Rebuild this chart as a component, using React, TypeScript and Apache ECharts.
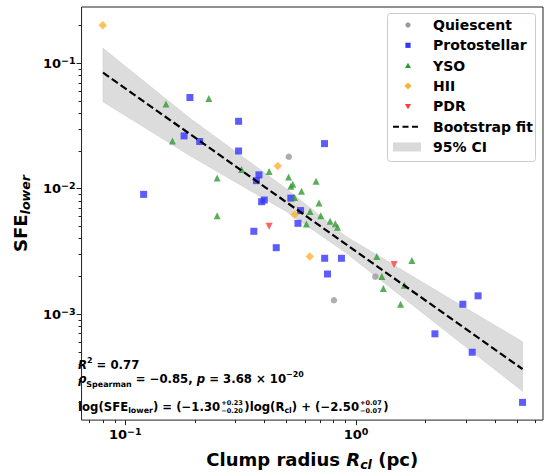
import React, { useEffect, useRef } from "react";
import * as echarts from "echarts";

const FONT = '"DejaVu Sans", sans-serif';

// ---- data ----
const quiescentR = [0.511, 0.802, 1.212];
const quiescentSFE = [0.018, 0.00129, 0.00199];

const protostellarR = [0.1905, 0.3096, 0.1797, 0.21, 0.3096, 0.3795, 0.37, 0.12, 0.73, 0.5216, 0.4, 0.3897, 0.5746, 0.56, 0.3605, 0.4508, 0.731, 0.8643, 0.752, 2.197, 2.903, 3.379, 3.187, 5.267];
const protostellarSFE = [0.0534, 0.0345, 0.0264, 0.0238, 0.02, 0.0129, 0.0116, 0.00902, 0.0229, 0.00842, 0.00813, 0.00788, 0.0067, 0.0053, 0.00458, 0.00339, 0.00279, 0.00279, 0.00209, 0.000697, 0.0012, 0.0014, 0.000497, 0.000198];

const ysoR = [0.15, 0.23, 0.16, 0.25, 0.25, 0.3187, 0.42, 0.51, 0.671, 0.532, 0.5216, 0.58, 0.541, 0.691, 0.632, 0.703, 0.609, 0.772, 0.813, 0.831, 1.23, 1.745, 1.294, 1.313, 1.621, 1.559];
const ysoSFE = [0.0473, 0.0525, 0.024, 0.01216, 0.00609, 0.01422, 0.01372, 0.01238, 0.01145, 0.01085, 0.01047, 0.00956, 0.00852, 0.0077, 0.00658, 0.00609, 0.00523, 0.0055, 0.00527, 0.00493, 0.00288, 0.00268, 0.002, 0.0016, 0.0017, 0.0012];

const hiiR = [0.0798, 0.458, 0.541, 0.63];
const hiiSFE = [0.201, 0.0152, 0.00619, 0.00288];

const pdrR = [0.42, 1.461];
const pdrSFE = [0.00502, 0.00249];

const fitR = [0.08, 5.27];
const fitSFE = [0.0843, 0.000365];

const bandR = [0.08, 0.19, 0.5, 0.9, 2.62, 5.27];
const bandLower = [0.0494, 0.0184, 0.00657, 0.0031, 0.000664, 0.000243];
const bandUpper = [0.1318, 0.0366, 0.00996, 0.00419, 0.00129, 0.000603];

const xMajor = [0.1, 1];
const xMinor = [0.07, 0.08, 0.09, 0.2, 0.3, 0.4, 0.5, 0.6, 0.7, 0.8, 0.9, 2, 3, 4, 5, 6];
const yMajor = [0.001, 0.01, 0.1];
const yMinor = [0.0002, 0.0003, 0.0004, 0.0005, 0.0006, 0.0007, 0.0008, 0.0009, 0.002, 0.003, 0.004, 0.005, 0.006, 0.007, 0.008, 0.009, 0.02, 0.03, 0.04, 0.05, 0.06, 0.07, 0.08, 0.09, 0.2];

const X_MIN = 0.0646, X_MAX = 6.46;
const Y_MIN = 0.000143, Y_MAX = 0.2813;

const legendNames = ["Quiescent", "Protostellar", "YSO", "HII", "PDR", "Bootstrap fit", "95% CI"];

const C_Q = "#9a9a9a", C_P = "#3535ff", C_Y = "#2f9a2f", C_H = "#ffb22e", C_R = "#ff3a3a";
const AX = "#222";

const pairs = (xs: number[], ys: number[]) => xs.map((x, i) => [x, ys[i]]);

const tickFmt = (v: number) => {
  const e = Math.round(Math.log10(v));
  return `{b|10}{s|${e < 0 ? "\u2212" : ""}${Math.abs(e)}}`;
};
const tickRich = {
  b: { fontSize: 13, fontWeight: "bold", fontFamily: FONT, lineHeight: 16, color: "#000" },
  s: { fontSize: 9.5, fontWeight: "bold", fontFamily: FONT, lineHeight: 10, padding: [0, 0, 6, 0], color: "#000" },
};

type Seg = { t?: string; k: string; dy?: number; up?: string; dn?: string };

function buildLine(segs: Seg[], x0: number, midY: number, F: number) {
  const cv = document.createElement("canvas").getContext("2d")!;
  const meas = (t: string, size: number, italic: boolean) => {
    cv.font = `${italic ? "italic " : ""}bold ${size}px ${FONT}`;
    return cv.measureText(t).width;
  };
  const S = F * 0.68;
  const ST = F * 0.56;
  const txt = (t: string, x: number, y: number, size: number, italic: boolean) => ({
    type: "text",
    x,
    y,
    silent: true,
    style: {
      text: t,
      fontSize: size,
      fontWeight: "bold",
      fontStyle: italic ? "italic" : "normal",
      fontFamily: FONT,
      fill: "#000",
      align: "left",
      verticalAlign: "middle",
    },
  });
  const els: any[] = [];
  let x = x0;
  for (const s of segs) {
    if (s.k === "stack") {
      const w1 = meas(s.up!, ST, false), w2 = meas(s.dn!, ST, false);
      els.push(txt(s.up!, x + 1, midY - F * 0.34, ST, false));
      els.push(txt(s.dn!, x + 1, midY + F * 0.38, ST, false));
      x += Math.max(w1, w2) + 2.5;
    } else {
      const small = s.k === "sup" || s.k === "sub" || s.k === "isub";
      const size = small ? S : F;
      const italic = s.k === "i" || s.k === "isub";
      const dy = s.dy !== undefined ? s.dy * F : s.k === "sup" ? -0.36 * F : small ? 0.3 * F : 0;
      els.push(txt(s.t!, x, midY + dy, size, italic));
      x += meas(s.t!, size, italic);
    }
  }
  return els;
}

export default function App() {
  const ref = useRef<HTMLDivElement>(null);
  useEffect(() => {
    const chart = echarts.init(ref.current!, null, { renderer: "svg" });
    const F = 11.7;
    const line1 = buildLine([{ t: "R", k: "i" }, { t: "2", k: "sup" }, { t: " = 0.77", k: "n" }], 78, 365, F);
    const line2 = buildLine(
      [
        { t: "\u03c1", k: "i" },
        { t: "Spearman", k: "sub", dy: 0.48 },
        { t: " = \u22120.85, ", k: "n" },
        { t: "p", k: "i" },
        { t: " = 3.68 \u00d7 10", k: "n" },
        { t: "\u221220", k: "sup" },
      ],
      78, 378.6, F
    );
    const line3 = buildLine(
      [
        { t: "log(SFE", k: "n" },
        { t: "lower", k: "sub" },
        { t: ") = (\u22121.30", k: "n" },
        { k: "stack", up: "+0.23", dn: "\u22120.20" },
        { t: ")log(R", k: "n" },
        { t: "cl", k: "sub" },
        { t: ") + (\u22122.50", k: "n" },
        { k: "stack", up: "+0.07", dn: "\u22120.07" },
        { t: ")", k: "n" },
      ],
      78, 406.5, F
    );

    const rowY = [25, 45.3, 65.7, 86, 106.3, 126.7, 147];
    const mx = 408;
    const legendEls: any[] = [
      { type: "rect", shape: { x: 387.5, y: 13.5, width: 148, height: 148, r: 3 }, style: { fill: "rgba(255,255,255,0.85)", stroke: "#cccccc", lineWidth: 1 }, z: 10 },
      { type: "circle", shape: { cx: mx, cy: rowY[0], r: 2.6 }, style: { fill: C_Q }, z: 11 },
      { type: "rect", shape: { x: mx - 2.6, y: rowY[1] - 2.6, width: 5.2, height: 5.2 }, style: { fill: C_P }, z: 11 },
      { type: "polygon", shape: { points: [[mx, rowY[2] - 3], [mx - 3, rowY[2] + 2.4], [mx + 3, rowY[2] + 2.4]] }, style: { fill: C_Y }, z: 11 },
      { type: "polygon", shape: { points: [[mx, rowY[3] - 3.6], [mx + 3.6, rowY[3]], [mx, rowY[3] + 3.6], [mx - 3.6, rowY[3]]] }, style: { fill: C_H }, z: 11 },
      { type: "polygon", shape: { points: [[mx - 3, rowY[4] - 2.4], [mx + 3, rowY[4] - 2.4], [mx, rowY[4] + 3]] }, style: { fill: C_R }, z: 11 },
      { type: "line", shape: { x1: 393, y1: rowY[5], x2: 421, y2: rowY[5] }, style: { stroke: "#000", lineWidth: 2, lineDash: [6, 3.5] }, z: 11 },
      { type: "rect", shape: { x: 393, y: rowY[6] - 4.5, width: 28, height: 9 }, style: { fill: "#d9d9d9" }, z: 11 },
      ...legendNames.map((n, i) => ({
        type: "text",
        x: 433,
        y: rowY[i],
        z: 11,
        style: { text: n, fontSize: 14, fontWeight: "bold", fontFamily: FONT, fill: "#000", align: "left", verticalAlign: "middle" },
      })),
    ];

    const tickLine = { color: AX, width: 1 };
    const option: any = {
      animation: false,
      backgroundColor: "#fff",
      grid: { left: 69, right: 7, top: 7, bottom: 49, show: true, borderColor: AX, borderWidth: 1, backgroundColor: "transparent" },
      xAxis: [
        {
          type: "log", logBase: 10, min: X_MIN, max: X_MAX, position: "bottom",
          axisLine: { show: false },
          axisTick: { show: true, inside: false, length: 5, customValues: xMajor, lineStyle: tickLine },
          axisLabel: { customValues: xMajor, formatter: tickFmt, rich: tickRich, margin: 6 },
          splitLine: { show: false }, minorTick: { show: false }, minorSplitLine: { show: false },
          name: "{a|Clump radius }{i|R}{s|cl}{a| (pc)}",
          nameLocation: "middle", nameGap: 19,
          nameTextStyle: {
            rich: {
              a: { fontSize: 18, fontWeight: "bold", fontFamily: FONT, lineHeight: 22, color: "#000" },
              i: { fontSize: 18, fontWeight: "bold", fontStyle: "italic", fontFamily: FONT, lineHeight: 22, color: "#000" },
              s: { fontSize: 12.6, fontWeight: "bold", fontStyle: "italic", fontFamily: FONT, lineHeight: 13, padding: [11, 0, 0, 0], color: "#000" },
            },
          },
        },
        {
          type: "log", logBase: 10, min: X_MIN, max: X_MAX, position: "bottom",
          axisLine: { show: false },
          axisTick: { show: true, inside: false, length: 3, customValues: xMinor, lineStyle: tickLine },
          axisLabel: { show: false }, splitLine: { show: false },
        },
      ],
      yAxis: [
        {
          type: "log", logBase: 10, min: Y_MIN, max: Y_MAX, position: "left",
          axisLine: { show: false },
          axisTick: { show: true, inside: false, length: 5, customValues: yMajor, lineStyle: tickLine },
          axisLabel: { customValues: yMajor, formatter: tickFmt, rich: tickRich, margin: 6 },
          splitLine: { show: false }, minorTick: { show: false },
          name: "{a|SFE}{s|lower}",
          nameLocation: "middle", nameRotate: 90, nameGap: 41,
          nameTextStyle: {
            rich: {
              a: { fontSize: 18, fontWeight: "bold", fontFamily: FONT, lineHeight: 22, color: "#000" },
              s: { fontSize: 12.6, fontWeight: "bold", fontStyle: "italic", fontFamily: FONT, lineHeight: 13, padding: [11, 0, 0, 0], color: "#000" },
            },
          },
        },
        {
          type: "log", logBase: 10, min: Y_MIN, max: Y_MAX, position: "left",
          axisLine: { show: false },
          axisTick: { show: true, inside: false, length: 3, customValues: yMinor, lineStyle: tickLine },
          axisLabel: { show: false }, splitLine: { show: false },
        },
      ],
      series: [
        {
          name: "95% CI",
          type: "custom",
          silent: true,
          z: 1,
          data: bandR.map((r, i) => [r, bandLower[i], bandUpper[i]]),
          encode: { x: 0, y: [1, 2] },
          renderItem: (params: any, api: any) => {
            if (params.dataIndex !== 0) return null;
            const pts: number[][] = [];
            for (let i = 0; i < bandR.length; i++) pts.push(api.coord([bandR[i], bandUpper[i]]));
            for (let i = bandR.length - 1; i >= 0; i--) pts.push(api.coord([bandR[i], bandLower[i]]));
            return { type: "polygon", shape: { points: pts }, style: { fill: "#dcdcdc", stroke: "#cfcfcf", lineWidth: 0.6 } };
          },
        },
        { name: "Quiescent", type: "scatter", z: 3, symbol: "circle", symbolSize: 6.5, itemStyle: { color: C_Q }, data: pairs(quiescentR, quiescentSFE) },
        { name: "Protostellar", type: "scatter", z: 3, symbol: "rect", symbolSize: 7, itemStyle: { color: C_P }, data: pairs(protostellarR, protostellarSFE) },
        { name: "YSO", type: "scatter", z: 3, symbol: "triangle", symbolSize: 7, itemStyle: { color: C_Y }, data: pairs(ysoR, ysoSFE) },
        { name: "HII", type: "scatter", z: 3, symbol: "diamond", symbolSize: 8.5, itemStyle: { color: C_H }, data: pairs(hiiR, hiiSFE) },
        { name: "PDR", type: "scatter", z: 3, symbol: "triangle", symbolRotate: 180, symbolSize: 7, itemStyle: { color: C_R }, data: pairs(pdrR, pdrSFE) },
        {
          name: "Bootstrap fit", type: "line", z: 4, symbol: "none", silent: true,
          lineStyle: { color: "#000", width: 2.2, type: [7.4, 3.4] },
          data: pairs(fitR, fitSFE),
        },
      ],
      graphic: [...line1, ...line2, ...line3, ...legendEls],
    };
    chart.setOption(option);
    return () => chart.dispose();
  }, []);
  return <div ref={ref} style={{ position: "fixed", left: 0, top: 0, width: 550, height: 476 }} />;
}
